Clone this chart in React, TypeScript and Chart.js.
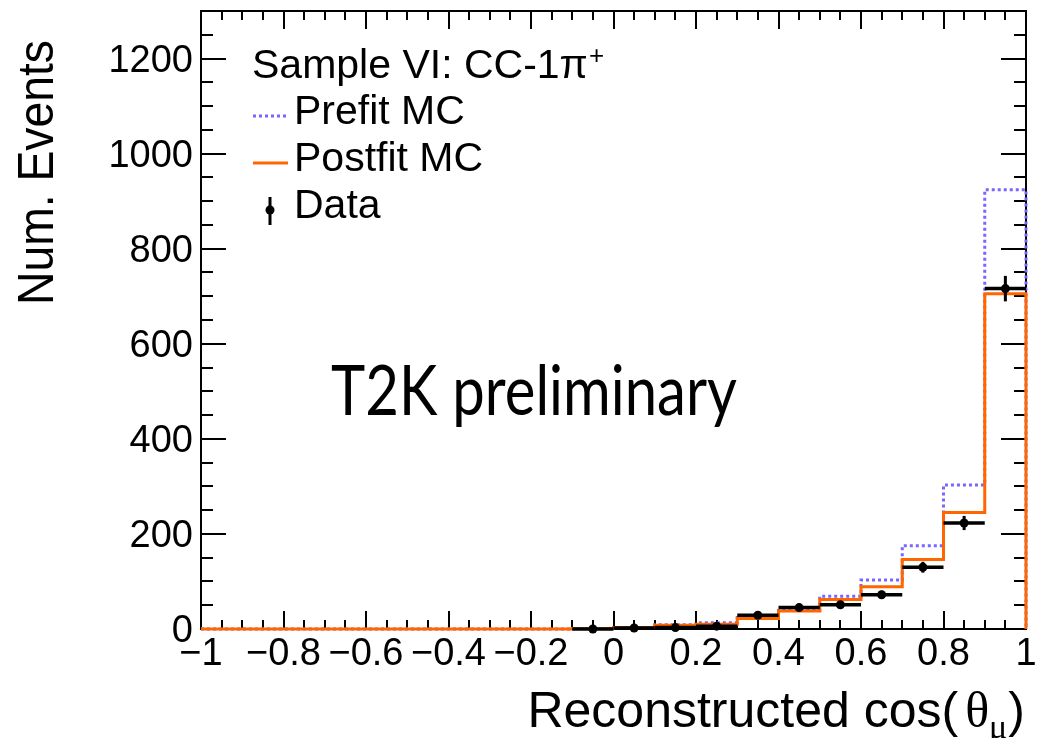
import React, { useEffect, useRef } from 'react';
import { Chart, registerables } from 'chart.js';

Chart.register(...registerables);

// ---- Data ----
const binLowEdges = [-1, -0.1, 0, 0.1, 0.2, 0.3, 0.4, 0.5, 0.6, 0.7, 0.8, 0.9];
const binUpperEdge = 1;
const prefitMC = [0, 1, 3, 9, 13, 24, 39, 69, 103, 175, 303, 924];
const postfitMC = [0, 1, 3, 8, 10, 22, 38, 62, 89, 146, 245, 705];
const dataX = [-0.05, 0.05, 0.15, 0.25, 0.35, 0.45, 0.55, 0.65, 0.75, 0.85, 0.95];
const dataY = [0, 2, 3, 6, 29, 45, 51, 72, 130, 223, 716];
const dataErr = [0, 1.4, 1.7, 2.4, 5.4, 6.7, 7.1, 8.5, 11.4, 14.9, 26.8];
const dataHalfBin = 0.05;
const xTickValues = [-1, -0.8, -0.6, -0.4, -0.2, 0, 0.2, 0.4, 0.6, 0.8, 1];
const yTickValues = [0, 200, 400, 600, 800, 1000, 1200];
const xMinorStep = 0.05;
const yMinorStep = 50;
const X_MIN = -1;
const X_MAX = 1;
const Y_MIN = 0;
const Y_MAX = 1300;

const SANS = '"Liberation Sans", Arial, Helvetica, sans-serif';
const PREFIT_COLOR = '#7766ff';
const POSTFIT_COLOR = '#ff6600';

function histPoints(values: number[]) {
  const pts = binLowEdges.map((e, i) => ({ x: e, y: values[i] }));
  pts.push({ x: binUpperEdge, y: 0 });
  return pts;
}

function fmtX(v: number) {
  if (Math.abs(v) < 1e-9) return '0';
  const s = Math.abs(v).toFixed(1).replace(/\.0$/, '');
  return (v < 0 ? '\u2212' : '') + s;
}

const errorBarPlugin = {
  id: 'errorBars',
  afterDatasetsDraw(chart: any) {
    const { ctx, scales } = chart;
    const xs = scales.x;
    const ys = scales.y;
    ctx.save();
    ctx.strokeStyle = '#000';
    ctx.lineCap = 'butt';
    for (let i = 0; i < dataX.length; i++) {
      const px = xs.getPixelForValue(dataX[i]);
      const py = ys.getPixelForValue(dataY[i]);
      ctx.lineWidth = 3.5;
      ctx.beginPath();
      ctx.moveTo(xs.getPixelForValue(dataX[i] - dataHalfBin), py);
      ctx.lineTo(xs.getPixelForValue(dataX[i] + dataHalfBin), py);
      ctx.stroke();
      if (dataErr[i] > 0) {
        ctx.lineWidth = 3;
        ctx.beginPath();
        ctx.moveTo(px, ys.getPixelForValue(dataY[i] - dataErr[i]));
        ctx.lineTo(px, ys.getPixelForValue(dataY[i] + dataErr[i]));
        ctx.stroke();
      }
    }
    ctx.restore();
  },
};

const framePlugin = {
  id: 'frameTicks',
  beforeDatasetsDraw(chart: any) {
    const { ctx, chartArea, scales } = chart;
    const { left, right, top, bottom } = chartArea;
    const xs = scales.x;
    const ys = scales.y;
    ctx.save();
    ctx.strokeStyle = '#000';
    ctx.lineWidth = 2;
    ctx.strokeRect(left, top, right - left, bottom - top);
    ctx.beginPath();
    const nx = Math.round((X_MAX - X_MIN) / xMinorStep);
    for (let i = 0; i <= nx; i++) {
      const v = X_MIN + i * xMinorStep;
      const isMajor = xTickValues.some((t) => Math.abs(t - v) < 1e-6);
      const len = isMajor ? 18 : 9;
      const px = Math.round(xs.getPixelForValue(v));
      ctx.moveTo(px, bottom);
      ctx.lineTo(px, bottom - len);
      ctx.moveTo(px, top);
      ctx.lineTo(px, top + len);
    }
    const ny = Math.round((Y_MAX - Y_MIN) / yMinorStep);
    for (let i = 0; i <= ny; i++) {
      const v = Y_MIN + i * yMinorStep;
      const isMajor = yTickValues.some((t) => Math.abs(t - v) < 1e-6);
      const len = isMajor ? 25 : 12;
      const py = Math.round(ys.getPixelForValue(v));
      ctx.moveTo(left, py);
      ctx.lineTo(left + len, py);
      ctx.moveTo(right, py);
      ctx.lineTo(right - len, py);
    }
    ctx.stroke();
    ctx.restore();
  },
};

function drawScaledText(ctx: CanvasRenderingContext2D, text: string, x: number, y: number, font: string, targetWidth: number) {
  ctx.save();
  ctx.font = font;
  const w = ctx.measureText(text).width;
  const sx = targetWidth / w;
  ctx.translate(x, y);
  ctx.scale(sx, 1);
  ctx.textAlign = 'left';
  ctx.textBaseline = 'alphabetic';
  ctx.fillText(text, 0, 0);
  ctx.restore();
}

const textPlugin = {
  id: 'texts',
  afterDraw(chart: any) {
    const ctx: CanvasRenderingContext2D = chart.ctx;
    ctx.save();
    ctx.fillStyle = '#000';

    // Y axis title
    ctx.save();
    ctx.translate(53, 40);
    ctx.rotate(-Math.PI / 2);
    ctx.font = `50px ${SANS}`;
    const wy = ctx.measureText('Num. Events').width;
    ctx.scale(265 / wy, 1);
    ctx.textAlign = 'right';
    ctx.textBaseline = 'alphabetic';
    ctx.fillText('Num. Events', 0, 0);
    ctx.restore();

    // X axis title: Reconstructed cos(θ_μ)
    {
      const baseFont = `50px ${SANS}`;
      const thetaFont = `50px "Liberation Serif", "DejaVu Serif", serif`;
      const muFont = `34px "Liberation Serif", "DejaVu Serif", serif`;
      ctx.font = baseFont;
      const w1 = ctx.measureText('Reconstructed cos(').width;
      ctx.font = thetaFont;
      const w2 = ctx.measureText('\u03b8').width;
      ctx.font = muFont;
      const w3 = ctx.measureText('\u03bc').width;
      ctx.font = baseFont;
      const w4 = ctx.measureText(')').width;
      const gap = 7;
      const total = w1 + gap + w2 + w3 + 1 + w4;
      let x = 1025 - total;
      const base = 727;
      ctx.textAlign = 'left';
      ctx.textBaseline = 'alphabetic';
      ctx.font = baseFont;
      ctx.fillText('Reconstructed cos(', x, base);
      x += w1 + gap;
      ctx.font = thetaFont;
      ctx.fillText('\u03b8', x, base);
      x += w2;
      ctx.font = muFont;
      ctx.fillText('\u03bc', x, base + 11);
      x += w3 + 1;
      ctx.font = baseFont;
      ctx.fillText(')', x, base);
    }

    // T2K preliminary
    drawScaledText(ctx, 'T2K preliminary', 331, 415, `400 69px Lato, "Open Sans", sans-serif`, 406);

    // Legend
    ctx.textAlign = 'left';
    ctx.textBaseline = 'alphabetic';
    ctx.font = `41px ${SANS}`;
    const header = 'Sample VI: CC-1\u03c0';
    ctx.fillText(header, 252, 78);
    const hw = ctx.measureText(header).width;
    ctx.font = `26px ${SANS}`;
    ctx.fillText('+', 252 + hw + 1, 64);

    ctx.font = `41px ${SANS}`;
    ctx.fillText('Prefit MC', 294, 124);
    ctx.fillText('Postfit MC', 294, 171);
    ctx.fillText('Data', 294, 218);

    ctx.save();
    ctx.lineCap = 'butt';
    ctx.strokeStyle = PREFIT_COLOR;
    ctx.lineWidth = 3;
    ctx.setLineDash([3, 3]);
    ctx.beginPath();
    ctx.moveTo(253, 116);
    ctx.lineTo(288, 116);
    ctx.stroke();
    ctx.setLineDash([]);
    ctx.strokeStyle = POSTFIT_COLOR;
    ctx.lineWidth = 3;
    ctx.beginPath();
    ctx.moveTo(253, 163);
    ctx.lineTo(288, 163);
    ctx.stroke();
    ctx.strokeStyle = '#000';
    ctx.lineWidth = 3;
    ctx.beginPath();
    ctx.moveTo(270, 197);
    ctx.lineTo(270, 225);
    ctx.stroke();
    ctx.fillStyle = '#000';
    ctx.beginPath();
    ctx.arc(270, 210, 4.5, 0, Math.PI * 2);
    ctx.fill();
    ctx.restore();

    ctx.restore();
  },
};

export default function App() {
  const canvasRef = useRef<HTMLCanvasElement | null>(null);

  useEffect(() => {
    if (!canvasRef.current) return;
    const chart = new Chart(canvasRef.current, {
      type: 'line',
      data: {
        datasets: [
          {
            type: 'scatter',
            label: 'Data',
            data: dataX.map((x, i) => ({ x, y: dataY[i] })),
            showLine: false,
            pointRadius: 4.5,
            pointBorderWidth: 0,
            pointBackgroundColor: '#000',
            backgroundColor: '#000',
            borderColor: '#000',
            order: 0,
            clip: false,
          } as any,
          {
            label: 'Postfit MC',
            data: histPoints(postfitMC),
            stepped: 'before',
            borderColor: POSTFIT_COLOR,
            borderWidth: 3,
            pointRadius: 0,
            fill: false,
            order: 1,
            clip: false,
          } as any,
          {
            label: 'Prefit MC',
            data: histPoints(prefitMC),
            stepped: 'before',
            borderColor: PREFIT_COLOR,
            borderWidth: 3,
            borderDash: [3, 3],
            pointRadius: 0,
            fill: false,
            order: 2,
            clip: false,
          } as any,
        ],
      },
      options: {
        animation: false,
        responsive: false,
        devicePixelRatio: 1,
        events: [],
        layout: { padding: { left: 0, right: 12, top: 11, bottom: 0 } },
        plugins: {
          legend: { display: false },
          tooltip: { enabled: false },
        },
        scales: {
          x: {
            type: 'linear',
            min: X_MIN,
            max: X_MAX,
            grid: { display: false, drawTicks: false },
            border: { display: false },
            afterBuildTicks: (s: any) => {
              s.ticks = xTickValues.map((v) => ({ value: v }));
            },
            afterFit: (s: any) => {
              s.height = 738 - 629;
              s.paddingLeft = 0;
              s.paddingRight = 0;
              s.paddingTop = 0;
              s.paddingBottom = 0;
            },
            ticks: {
              autoSkip: false,
              maxRotation: 0,
              minRotation: 0,
              padding: 3,
              color: '#000',
              font: { family: SANS, size: 38 },
              callback: (v: any) => fmtX(Number(v)),
            },
          },
          y: {
            type: 'linear',
            min: Y_MIN,
            max: Y_MAX,
            grid: { display: false, drawTicks: false },
            border: { display: false },
            afterBuildTicks: (s: any) => {
              s.ticks = yTickValues.map((v) => ({ value: v }));
            },
            afterFit: (s: any) => {
              s.width = 201;
              s.paddingLeft = 0;
              s.paddingRight = 0;
              s.paddingTop = 0;
              s.paddingBottom = 0;
            },
            ticks: {
              autoSkip: false,
              padding: 8,
              labelOffset: 3,
              color: '#000',
              font: { family: SANS, size: 38 },
              callback: (v: any) => String(v),
            },
          },
        },
      } as any,
      plugins: [errorBarPlugin, framePlugin, textPlugin],
    });
    return () => chart.destroy();
  }, []);

  return (
    <div style={{ position: 'absolute', left: 0, top: 0, width: 1038, height: 738, background: '#fff' }}>
      <canvas ref={canvasRef} width={1038} height={738} style={{ display: 'block' }} />
    </div>
  );
}
